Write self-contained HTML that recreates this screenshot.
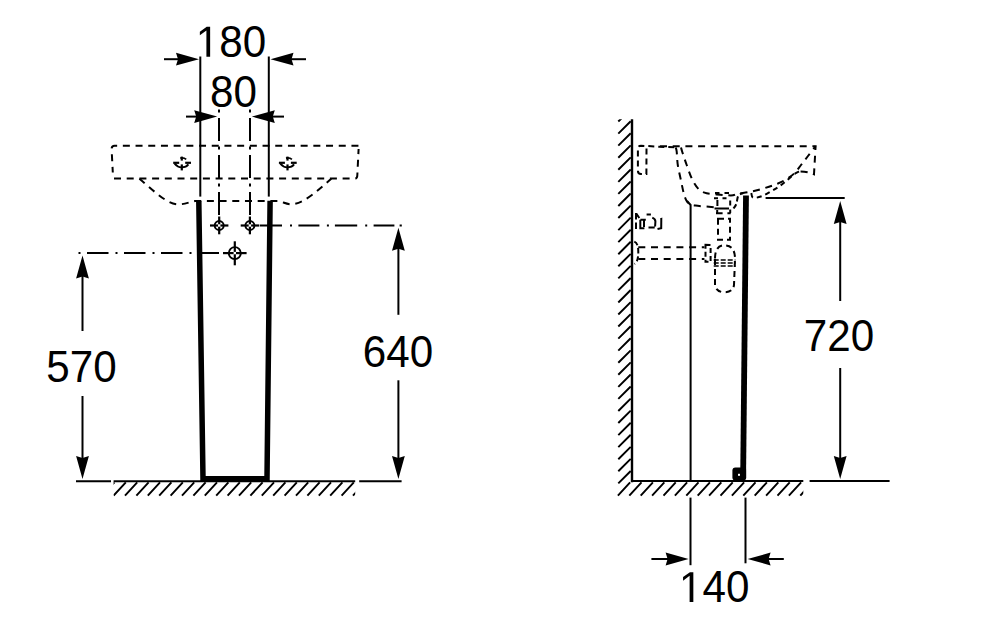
<!DOCTYPE html>
<html><head><meta charset="utf-8"><style>
html,body{margin:0;padding:0;background:#fff;width:1000px;height:630px;overflow:hidden}
svg{display:block}
text{font-family:"Liberation Sans",sans-serif;fill:#000;stroke:none}
</style></head><body>
<svg width="1000" height="630" viewBox="0 0 1000 630" stroke="#000" stroke-linecap="butt">
<rect width="1000" height="630" fill="#fff" stroke="none"/>
<line x1="200.30" y1="56.50" x2="200.30" y2="196.60" stroke-width="2" />
<line x1="268.80" y1="56.50" x2="268.80" y2="196.60" stroke-width="2" />
<line x1="164.00" y1="59.20" x2="185.00" y2="59.20" stroke-width="2" />
<path d="M199.00,59.20 L176.00,65.60 L178.00,59.20 L176.00,52.80 Z" fill="#000" stroke="none"/>
<line x1="285.00" y1="59.20" x2="306.00" y2="59.20" stroke-width="2" />
<path d="M270.50,59.20 L293.50,52.80 L291.50,59.20 L293.50,65.60 Z" fill="#000" stroke="none"/>
<g transform="translate(195.8,56.8) scale(0.97,1)"><path d="M515,0 L515,1237 L197,1010 L197,1180 L530,1409 L696,1409 L696,0 Z" transform="translate(0.00,0) scale(0.02124,-0.02124)" fill="#000" stroke="none"/><text x="24.19" y="0" font-size="43.5">80</text></g>
<line x1="186.00" y1="116.60" x2="200.00" y2="116.60" stroke-width="2" />
<path d="M217.20,116.60 L194.20,123.00 L196.20,116.60 L194.20,110.20 Z" fill="#000" stroke="none"/>
<line x1="270.00" y1="116.60" x2="284.00" y2="116.60" stroke-width="2" />
<path d="M251.80,116.60 L274.80,110.20 L272.80,116.60 L274.80,123.00 Z" fill="#000" stroke="none"/>
<g transform="translate(210.0,106.6) scale(0.97,1)"><text x="0.00" y="0" font-size="43.5">80</text></g>
<line x1="219.00" y1="109.50" x2="219.00" y2="216.00" stroke-width="2" stroke-dasharray="3 5.5 23 5.5" stroke-dashoffset="0"/>
<line x1="250.00" y1="109.50" x2="250.00" y2="216.00" stroke-width="2" stroke-dasharray="3 5.5 23 5.5" stroke-dashoffset="0"/>
<path d="M112.8,172.5 L111.6,149 Q111.6,145.8 114.5,145.8 L358.6,145.8" stroke-width="2" fill="none" stroke-dasharray="7 5.7" stroke-dashoffset="1.4"/>
<path d="M114,178.6 L355,178.6 Q357.2,178.6 357.3,175.5 L358.6,149" stroke-width="2" fill="none" stroke-dasharray="7 5.7"/>
<path d="M139.4,178.8 C152,189 166,204 178,204.3 C185,204.5 189,202 195,201 L278,201 C283,202 287,204.5 292,204.3 C305,203 318,190 331.3,178.8" stroke-width="2" fill="none" stroke-dasharray="7 5.7"/>
<line x1="173.20" y1="162.80" x2="179.20" y2="162.80" stroke-width="2.2" />
<line x1="185.20" y1="162.80" x2="191.00" y2="162.80" stroke-width="2.2" />
<line x1="181.80" y1="156.60" x2="181.80" y2="160.60" stroke-width="2.2" />
<line x1="181.80" y1="164.40" x2="181.80" y2="170.40" stroke-width="2.2" />
<path d="M174.60000000000002,163.70000000000002 Q177.8,167.60000000000002 181.8,167.4 Q186.3,167.20000000000002 188.4,164.4" stroke-width="1.9" fill="none" />
<path d="M180.3,158.20000000000002 Q183.8,157.4 186.20000000000002,159.4" stroke-width="1.8" fill="none" />
<line x1="278.90" y1="162.80" x2="284.90" y2="162.80" stroke-width="2.2" />
<line x1="290.90" y1="162.80" x2="296.70" y2="162.80" stroke-width="2.2" />
<line x1="287.50" y1="156.60" x2="287.50" y2="160.60" stroke-width="2.2" />
<line x1="287.50" y1="164.40" x2="287.50" y2="170.40" stroke-width="2.2" />
<path d="M280.3,163.70000000000002 Q283.5,167.60000000000002 287.5,167.4 Q292.0,167.20000000000002 294.1,164.4" stroke-width="1.9" fill="none" />
<path d="M286.0,158.20000000000002 Q289.5,157.4 291.9,159.4" stroke-width="1.8" fill="none" />
<path d="M198.8,200.8 L203,478.8 L267,478.8 L270.1,200.8" stroke-width="5.5" fill="none" stroke-linejoin="miter"/>
<circle cx="219.2" cy="225.5" r="4.5" stroke-width="1.9" fill="none"/>
<line x1="210.00" y1="225.50" x2="218.00" y2="225.50" stroke-width="2.2" />
<line x1="220.40" y1="225.50" x2="228.40" y2="225.50" stroke-width="2.2" />
<line x1="219.20" y1="216.50" x2="219.20" y2="224.30" stroke-width="2.2" />
<line x1="219.20" y1="226.70" x2="219.20" y2="234.30" stroke-width="2.2" />
<circle cx="249.9" cy="225.5" r="4.5" stroke-width="1.9" fill="none"/>
<line x1="240.70" y1="225.50" x2="248.70" y2="225.50" stroke-width="2.2" />
<line x1="251.10" y1="225.50" x2="259.10" y2="225.50" stroke-width="2.2" />
<line x1="249.90" y1="216.50" x2="249.90" y2="224.30" stroke-width="2.2" />
<line x1="249.90" y1="226.70" x2="249.90" y2="234.30" stroke-width="2.2" />
<circle cx="234.8" cy="253.1" r="6" stroke-width="1.9" fill="none"/>
<line x1="223.00" y1="253.10" x2="233.60" y2="253.10" stroke-width="2.2" />
<line x1="236.00" y1="253.10" x2="246.60" y2="253.10" stroke-width="2.2" />
<line x1="234.80" y1="241.30" x2="234.80" y2="251.90" stroke-width="2.2" />
<line x1="234.80" y1="254.30" x2="234.80" y2="265.30" stroke-width="2.2" />
<line x1="259.70" y1="225.50" x2="394.40" y2="225.50" stroke-width="2" stroke-dasharray="22.3 8 2 6.4 21 7.5 2 6"/>
<line x1="399.60" y1="225.50" x2="401.80" y2="225.50" stroke-width="2" />
<line x1="78.50" y1="253.00" x2="219.00" y2="253.00" stroke-width="2" stroke-dasharray="2 6.5 21.5 7"/>
<line x1="82.50" y1="270.00" x2="82.50" y2="331.00" stroke-width="2" />
<path d="M82.50,255.50 L88.90,278.50 L82.50,276.50 L76.10,278.50 Z" fill="#000" stroke="none"/>
<line x1="82.50" y1="396.00" x2="82.50" y2="460.00" stroke-width="2" />
<path d="M82.50,479.00 L76.10,456.00 L82.50,458.00 L88.90,456.00 Z" fill="#000" stroke="none"/>
<g transform="translate(46.3,381.9) scale(0.97,1)"><text x="0.00" y="0" font-size="43.5">570</text></g>
<line x1="76.00" y1="481.30" x2="111.00" y2="481.30" stroke-width="2" />
<line x1="398.40" y1="245.00" x2="398.40" y2="314.80" stroke-width="2" />
<path d="M398.40,227.80 L404.80,250.80 L398.40,248.80 L392.00,250.80 Z" fill="#000" stroke="none"/>
<line x1="398.40" y1="380.30" x2="398.40" y2="460.00" stroke-width="2" />
<path d="M398.40,479.00 L392.00,456.00 L398.40,458.00 L404.80,456.00 Z" fill="#000" stroke="none"/>
<g transform="translate(362.8,366.6) scale(0.97,1)"><text x="0.00" y="0" font-size="43.5">640</text></g>
<line x1="359.20" y1="481.30" x2="401.60" y2="481.30" stroke-width="2" />
<line x1="113.60" y1="481.30" x2="355.20" y2="481.30" stroke-width="2" />
<clipPath id="cf1"><rect x="113.6" y="481" width="241.6" height="20"/></clipPath>
<path d="M90.80,495.6 L103.00,482.3 M102.20,495.6 L114.40,482.3 M113.60,495.6 L125.80,482.3 M125.00,495.6 L137.20,482.3 M136.40,495.6 L148.60,482.3 M147.80,495.6 L160.00,482.3 M159.20,495.6 L171.40,482.3 M170.60,495.6 L182.80,482.3 M182.00,495.6 L194.20,482.3 M193.40,495.6 L205.60,482.3 M204.80,495.6 L217.00,482.3 M216.20,495.6 L228.40,482.3 M227.60,495.6 L239.80,482.3 M239.00,495.6 L251.20,482.3 M250.40,495.6 L262.60,482.3 M261.80,495.6 L274.00,482.3 M273.20,495.6 L285.40,482.3 M284.60,495.6 L296.80,482.3 M296.00,495.6 L308.20,482.3 M307.40,495.6 L319.60,482.3 M318.80,495.6 L331.00,482.3 M330.20,495.6 L342.40,482.3 M341.60,495.6 L353.80,482.3 M353.00,495.6 L365.20,482.3" stroke-width="1.95" fill="none" clip-path="url(#cf1)"/>
<line x1="632.00" y1="119.30" x2="632.00" y2="482.20" stroke-width="2.4" />
<line x1="631.00" y1="481.00" x2="803.30" y2="481.00" stroke-width="2" />
<line x1="809.60" y1="481.00" x2="889.60" y2="481.00" stroke-width="2" />
<clipPath id="cf2"><rect x="615" y="481" width="188.3" height="20"/></clipPath>
<path d="M617.90,495.6 L630.10,482.3 M629.30,495.6 L641.50,482.3 M640.70,495.6 L652.90,482.3 M652.10,495.6 L664.30,482.3 M663.50,495.6 L675.70,482.3 M674.90,495.6 L687.10,482.3 M686.30,495.6 L698.50,482.3 M697.70,495.6 L709.90,482.3 M709.10,495.6 L721.30,482.3 M720.50,495.6 L732.70,482.3 M731.90,495.6 L744.10,482.3 M743.30,495.6 L755.50,482.3 M754.70,495.6 L766.90,482.3 M766.10,495.6 L778.30,482.3 M777.50,495.6 L789.70,482.3 M788.90,495.6 L801.10,482.3 M800.30,495.6 L812.50,482.3" stroke-width="1.95" fill="none" clip-path="url(#cf2)"/>
<clipPath id="cw"><rect x="610" y="119.3" width="22" height="366"/></clipPath>
<path d="M618.3,121.54 L630.7,109.14 M618.3,133.60 L630.7,121.20 M618.3,145.66 L630.7,133.26 M618.3,157.72 L630.7,145.32 M618.3,169.78 L630.7,157.38 M618.3,181.84 L630.7,169.44 M618.3,193.90 L630.7,181.50 M618.3,205.96 L630.7,193.56 M618.3,218.02 L630.7,205.62 M618.3,230.08 L630.7,217.68 M618.3,242.14 L630.7,229.74 M618.3,254.20 L630.7,241.80 M618.3,266.26 L630.7,253.86 M618.3,278.32 L630.7,265.92 M618.3,290.38 L630.7,277.98 M618.3,302.44 L630.7,290.04 M618.3,314.50 L630.7,302.10 M618.3,326.56 L630.7,314.16 M618.3,338.62 L630.7,326.22 M618.3,350.68 L630.7,338.28 M618.3,362.74 L630.7,350.34 M618.3,374.80 L630.7,362.40 M618.3,386.86 L630.7,374.46 M618.3,398.92 L630.7,386.52 M618.3,410.98 L630.7,398.58 M618.3,423.04 L630.7,410.64 M618.3,435.10 L630.7,422.70 M618.3,447.16 L630.7,434.76 M618.3,459.22 L630.7,446.82 M618.3,471.28 L630.7,458.88 M618.3,483.34 L630.7,470.94" stroke-width="1.95" fill="none" clip-path="url(#cw)"/>
<path d="M687,201 L690.6,205 L690.6,481" stroke-width="2" fill="none" />
<line x1="690.50" y1="497.60" x2="690.50" y2="565.20" stroke-width="2" />
<line x1="745.50" y1="497.60" x2="745.50" y2="563.30" stroke-width="2" />
<line x1="651.40" y1="559.00" x2="670.00" y2="559.00" stroke-width="2" />
<path d="M688.60,559.00 L665.60,565.40 L667.60,559.00 L665.60,552.60 Z" fill="#000" stroke="none"/>
<line x1="765.00" y1="559.00" x2="783.80" y2="559.00" stroke-width="2" />
<path d="M747.60,559.00 L770.60,552.60 L768.60,559.00 L770.60,565.40 Z" fill="#000" stroke="none"/>
<g transform="translate(679.0,602.1) scale(0.97,1)"><path d="M515,0 L515,1237 L197,1010 L197,1180 L530,1409 L696,1409 L696,0 Z" transform="translate(0.00,0) scale(0.02124,-0.02124)" fill="#000" stroke="none"/><text x="24.19" y="0" font-size="43.5">40</text></g>
<line x1="765.60" y1="198.00" x2="844.70" y2="198.00" stroke-width="2.2" />
<line x1="840.20" y1="215.00" x2="840.20" y2="301.00" stroke-width="2" />
<path d="M840.20,201.00 L846.60,224.00 L840.20,222.00 L833.80,224.00 Z" fill="#000" stroke="none"/>
<line x1="840.20" y1="368.00" x2="840.20" y2="460.00" stroke-width="2" />
<path d="M840.20,479.00 L833.80,456.00 L840.20,458.00 L846.60,456.00 Z" fill="#000" stroke="none"/>
<g transform="translate(803.8,351.0) scale(0.97,1)"><text x="0.00" y="0" font-size="43.5">720</text></g>
<path d="M746,195.5 L743.2,470" stroke-width="5.8" fill="none" />
<rect x="732.4" y="467.6" width="13.8" height="12.8" rx="3" fill="#000" stroke="none"/>
<rect x="738" y="473.8" width="2" height="2" fill="#fff" stroke="none"/>
<path d="M660,146.2 L815.6,146.2 L814,174.2 L811.8,173.3 Q806,171.4 799,171.4" stroke-width="2" fill="none" stroke-dasharray="7 5.7"/>
<path d="M646.5,148.5 L646.4,174 L641,174 Q637.9,174 637.9,170.5 L637.9,149 Q637.9,145.7 641,145.7 L660,146.8 L675,147.3" stroke-width="2" fill="none" stroke-dasharray="6 4"/>
<path d="M681.00,147.50 C681.20,148.20 681.25,148.78 682.20,151.70 C683.15,154.62 685.03,160.38 686.70,165.00 C688.37,169.62 690.17,175.33 692.20,179.40 C694.23,183.47 696.48,187.08 698.90,189.40 C701.32,191.72 703.73,192.47 706.70,193.30 C709.67,194.13 713.48,194.08 716.70,194.40 C719.92,194.72 723.28,195.05 726.00,195.20 C728.72,195.35 731.00,195.58 733.00,195.30 C735.00,195.02 735.43,194.02 738.00,193.50 C740.57,192.98 744.90,192.82 748.40,192.20 C751.90,191.58 755.57,190.72 759.00,189.80 C762.43,188.88 765.83,187.75 769.00,186.70 C772.17,185.65 775.03,184.78 778.00,183.50 C780.97,182.22 784.07,180.70 786.80,179.00 C789.53,177.30 792.03,175.63 794.40,173.30 C796.77,170.97 798.73,167.88 801.00,165.00 C803.27,162.12 805.57,159.13 808.00,156.00 C810.43,152.87 814.33,147.83 815.60,146.20" stroke-width="2" fill="none" stroke-dasharray="7 5.7"/>
<path d="M675.80,147.50 C675.95,148.20 676.37,148.78 676.70,151.70 C677.03,154.62 677.08,160.18 677.80,165.00 C678.52,169.82 679.98,175.78 681.00,180.60 C682.02,185.42 682.95,190.48 683.90,193.90 C684.85,197.32 685.68,199.43 686.70,201.10 C687.72,202.77 688.52,203.15 690.00,203.90 C691.48,204.65 691.53,205.05 695.60,205.60 C699.67,206.15 711.27,206.93 714.40,207.20" stroke-width="2" fill="none" stroke-dasharray="7 5.7"/>
<path d="M733.60,208.50 C734.07,207.70 735.62,205.85 736.40,203.70 C737.18,201.55 737.20,197.35 738.30,195.60 C739.40,193.85 742.22,193.60 743.00,193.20" stroke-width="2" fill="none" stroke-dasharray="5 3"/>
<path d="M751.30,193.00 C751.62,193.80 751.47,197.27 753.20,197.80 C754.93,198.33 758.82,197.22 761.70,196.20 C764.58,195.18 767.65,193.28 770.50,191.70 C773.35,190.12 776.05,188.60 778.80,186.70 C781.55,184.80 784.40,182.42 787.00,180.30 C789.60,178.18 792.40,175.48 794.40,174.00 C796.40,172.52 798.23,171.83 799.00,171.40" stroke-width="2" fill="none" stroke-dasharray="5 4"/>
<path d="M715,193 L729,193" stroke-width="2" fill="none" stroke-dasharray="4.5 5"/>
<path d="M714,198.2 L730.5,198.2" stroke-width="2" fill="none" stroke-dasharray="4 4.5"/>
<path d="M717.4,200 L717.4,206 M730.2,200.5 L730.2,205.5 M714.5,208.5 L729,208.5 M716,213.2 L722.6,213.2 M727.4,213.2 L730.7,213.2 M717.2,210 L717.2,213 M730.2,209.5 L730.2,213" stroke-width="2" fill="none" />
<path d="M718,218.8 L718,239.8 L730,239.8 L730,218.8 Z" stroke-width="2" fill="none" stroke-dasharray="6 4"/>
<path d="M715,259 L715,285 Q716,292.2 724.5,292.2 Q733,292.2 734,285 L735,259 Q735,245.3 724.5,245.3 Q715,245.3 715,259" stroke-width="2" fill="none" stroke-dasharray="6 4"/>
<line x1="713.70" y1="260.00" x2="735.40" y2="260.00" stroke-width="1.6" stroke-dasharray="5 2"/>
<line x1="713.70" y1="263.00" x2="735.40" y2="263.00" stroke-width="1.6" stroke-dasharray="5 2"/>
<line x1="713.70" y1="266.00" x2="735.40" y2="266.00" stroke-width="1.6" stroke-dasharray="5 2"/>
<line x1="638.30" y1="247.20" x2="704.40" y2="247.20" stroke-width="2" stroke-dasharray="7 5.7"/>
<line x1="638.30" y1="259.10" x2="704.40" y2="259.10" stroke-width="2" stroke-dasharray="7 5.7"/>
<path d="M705.5,244.8 L710.6,245 L710.6,261.8 L705.5,261.8 Z" stroke-width="2" fill="none" stroke-dasharray="5 3"/>
<path d="M634.3,241.6 Q638.3,243 638.3,252 Q638.3,262 634.5,263.8" stroke-width="2" fill="none" stroke-dasharray="5 3"/>
<path d="M636,213 L636,219.5 M636,222.5 L636,229 M636.3,213.5 L639.3,218 M640.3,219.8 L640.3,228.3 L644.4,228.3 M640.4,219.8 L645.8,219.8 M644,220.5 L644,227 M646.6,214.5 L650.9,214.5 M652.3,217.6 Q655.5,219 655.4,221.5 L655.1,226.5 M648.5,227.6 L654.7,227.6 M660.3,219.4 L661.3,219 L661.2,228.2 L657.5,229" stroke-width="2" fill="none" />
</svg></body></html>
